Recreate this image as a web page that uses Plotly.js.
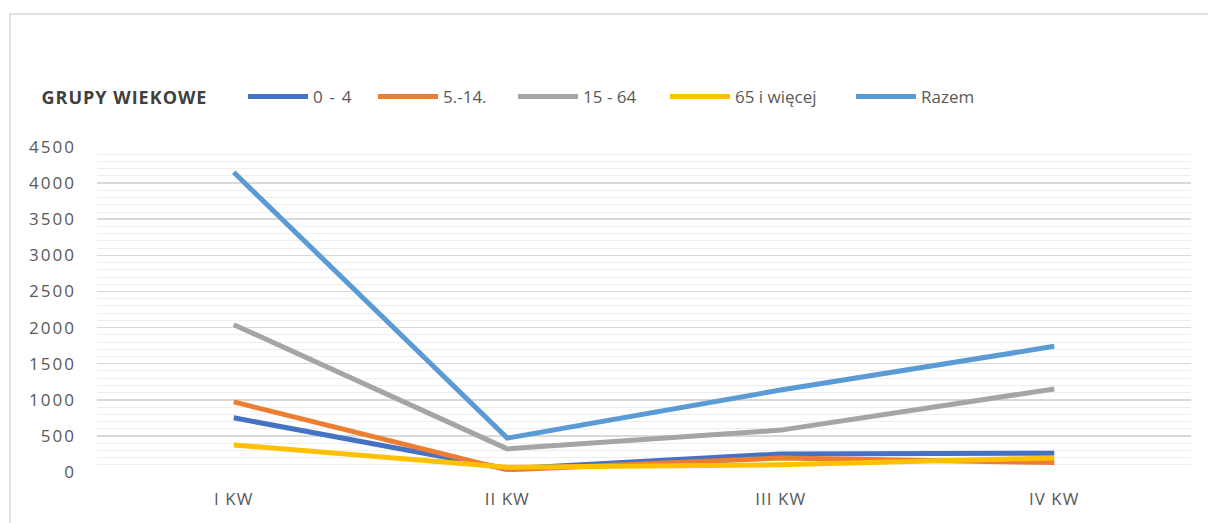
<!DOCTYPE html>
<html>
<head>
<meta charset="utf-8">
<script src="https://cdn.plot.ly/plotly-3.0.1.min.js"></script>
<style>
html,body{margin:0;padding:0;background:#fff;}
#chart{width:1208px;height:523px;}
#chart .legendtext{letter-spacing:1.2px;}
#chart .annotation-text{letter-spacing:1px;}
#chart .xtick text{letter-spacing:1px;}
#chart .ytick text{letter-spacing:2px;}
</style>
</head>
<body>
<div id="chart"></div>
<script>
const categories = ["I KW", "II KW", "III KW", "IV KW"];
const seriesNames = ["0 - 4", "5.-14.", "15 - 64", "65 i więcej", "Razem"];
const age0to4 = [750, 45, 250, 260];
const age5to14 = [970, 30, 195, 130];
const age15to64 = [2040, 320, 580, 1150];
const age65plus = [375, 65, 100, 195];
const total = [4150, 470, 1135, 1740];
const yTicks = [0, 500, 1000, 1500, 2000, 2500, 3000, 3500, 4000, 4500];
const legendTitle = "GRUPY WIEKOWE";

const seriesValues = [age0to4, age5to14, age15to64, age65plus, total];
const colors = ["#4472C4", "#ED7D31", "#A5A5A5", "#FFC000", "#5B9BD5"];
const legendIds = ["legend", "legend2", "legend3", "legend4", "legend5"];
const legendX = [0.1335, 0.2523, 0.3803, 0.5192, 0.6892];

const traces = seriesValues.map((vals, i) => ({
  type: "scatter",
  mode: "lines",
  name: seriesNames[i],
  legend: legendIds[i],
  x: categories,
  y: vals,
  line: {color: colors[i], width: 5}
}));

const layout = {
  width: 1208,
  height: 523,
  margin: {l: 97, r: 17, t: 147, b: 51},
  paper_bgcolor: "#ffffff",
  plot_bgcolor: "#ffffff",
  font: {family: "Open Sans, Liberation Sans, sans-serif", color: "#595959", size: 16},
  showlegend: true,
  xaxis: {
    type: "category",
    range: [-0.5, 3.5],
    showgrid: false,
    zeroline: false,
    showline: false,
    ticks: "",
    ticklabelstandoff: 15,
    tickfont: {size: 17, color: "#595959"},
    fixedrange: true
  },
  yaxis: {
    range: [0, 4500],
    tickvals: yTicks,
    ticktext: yTicks.map(String),
    showgrid: true,
    gridcolor: "#d9d9d9",
    gridwidth: 1.5,
    zeroline: false,
    showline: false,
    ticks: "",
    ticklabelstandoff: 20,
    tickfont: {size: 17, color: "#595959"},
    minor: {dtick: 100, showgrid: true, gridcolor: "#eeeeee", gridwidth: 1},
    fixedrange: true
  },
  annotations: [{
    text: "<b>" + legendTitle + "</b>",
    xref: "paper", yref: "paper",
    x: -0.0466, y: 1.154, xanchor: "left", yanchor: "middle",
    showarrow: false,
    font: {size: 18, color: "#404040"}
  }],
  shapes: [{
    type: "rect", xref: "paper", yref: "paper",
    x0: -0.0795, x1: 1.2, y0: -0.3, y1: 1.409,
    line: {color: "#d9d9d9", width: 1.5},
    layer: "below"
  }]
};

legendIds.forEach((id, i) => {
  layout[id] = {
    orientation: "h",
    x: legendX[i],
    xanchor: "left",
    y: 1.154,
    yanchor: "middle",
    itemwidth: 60,
    bgcolor: "rgba(0,0,0,0)",
    font: {size: 17, color: "#595959"}
  };
});

Plotly.newPlot("chart", traces, layout, {displayModeBar: false, staticPlot: true});
</script>
</body>
</html>
